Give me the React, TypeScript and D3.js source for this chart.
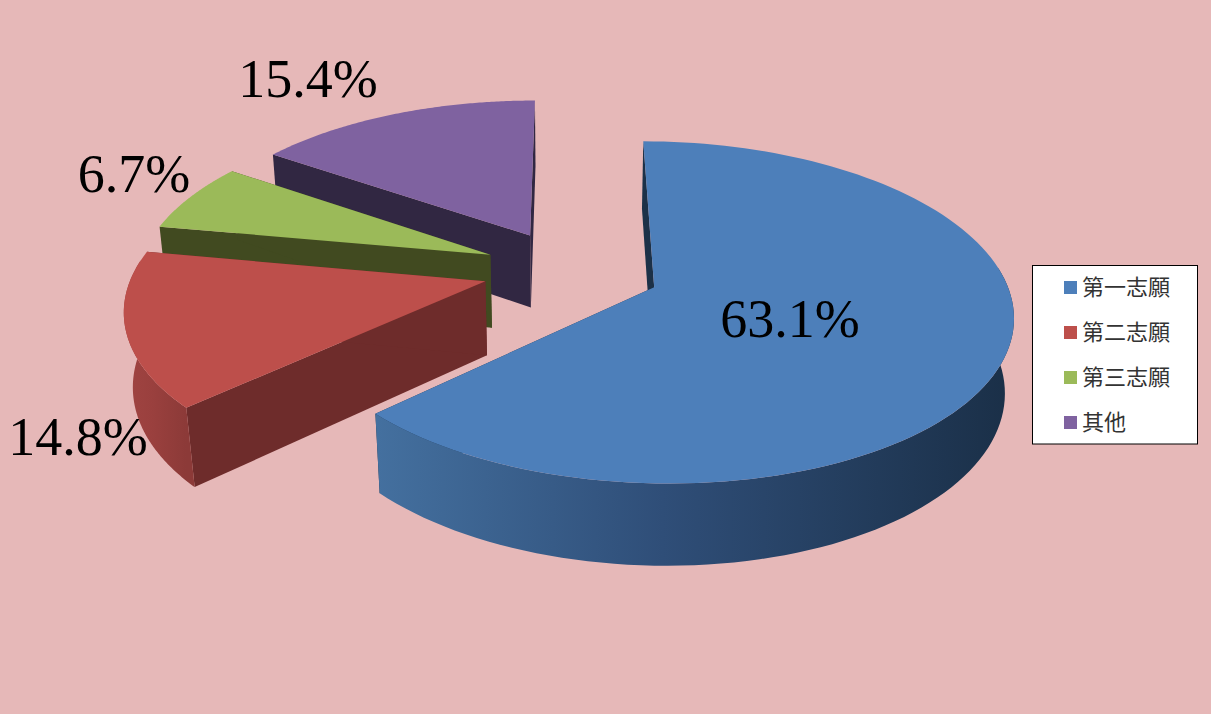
import React from "react";
import * as d3 from "d3";

const categories = ["第一志願", "第二志願", "第三志願", "其他"];
const values = [63.1, 14.8, 6.7, 15.4];
const valueLabels = ["63.1%", "14.8%", "6.7%", "15.4%"];
const topColors = ["#4d7fba", "#bd4f4b", "#9bba59", "#7f62a0"];
const wallColors = ["#1c3148", "#6e2c2b", "#414a20", "#312742"];
const sideStops = [
  ["#44709f", "#2f4e78", "#1a2f47"],
  ["#a04442", "#9a403e", "#8c3a38"],
  ["#5a6e33", "#5a6e33", "#5a6e33"],
  ["#4a3a60", "#4a3a60", "#4a3a60"],
];
const explode = [0.26, 0.245, 0.245, 0.245];
const radius = [0.99, 1, 1, 1];
const labelX = [790, 78, 134, 308];
const labelY = [337, 455, 192, 97];

const WIDTH = 1211;
const HEIGHT = 714;
const CX = 569;
const CY = 270;
const A = 352;
const B = 164;
const P = 0.146;
const Q = 0.02;
const H = 75;
const START = 0;

function project(u: number, v: number, h: number): [number, number] {
  const w = 1 - P * v + Q * h;
  return [CX + (A * u) / w, CY + (B * v + H * h) / w];
}

const pieGen = d3
  .pie<number>()
  .sort(null)
  .startAngle(START)
  .endAngle(START + 2 * Math.PI);
const arcs = pieGen(values);
const lineGen = d3.line();

function sliceGeometry(a: d3.PieArcDatum<number>, offset: number, r: number) {
  const mid = (a.startAngle + a.endAngle) / 2;
  const u0 = offset * Math.sin(mid);
  const v0 = -offset * Math.cos(mid);
  const steps = d3.range(0, 121).map((i) => a.startAngle + ((a.endAngle - a.startAngle) * i) / 120);
  const at = (t: number, h: number) => project(u0 + r * Math.sin(t), v0 - r * Math.cos(t), h);
  const apex = (h: number) => project(u0, v0, h);
  const topRim = steps.map((t) => at(t, 0));
  // Only the part of the rim that faces the viewer gets an outer side.
  const front = steps.filter((t) => Math.cos(t) <= 0.12);
  const sideTop = front.map((t) => at(t, 0));
  const sideBot = front.map((t) => at(t, 1));
  return {
    top: lineGen([apex(0), ...topRim])! + "Z",
    side: front.length ? lineGen([...sideTop, ...sideBot.slice().reverse()])! + "Z" : "",
    wallStart: lineGen([apex(0), at(a.startAngle, 0), at(a.startAngle, 1), apex(1)])! + "Z",
    wallEnd: lineGen([apex(0), at(a.endAngle, 0), at(a.endAngle, 1), apex(1)])! + "Z",
    x0: d3.min(topRim, (p) => p[0])!,
    x1: d3.max(topRim, (p) => p[0])!,
  };
}

const slices = arcs.map((a, i) => ({ i, ...sliceGeometry(a, explode[i], radius[i]) }));
const paintOrder = [3, 2, 1, 0];

const legendY = d3
  .scalePoint<string>()
  .domain(categories)
  .range([287, 422]);

export default function App() {
  return (
    <svg
      width={WIDTH}
      height={HEIGHT}
      viewBox={`0 0 ${WIDTH} ${HEIGHT}`}
      style={{ position: "absolute", left: 0, top: 0, display: "block" }}
    >
      <rect width={WIDTH} height={HEIGHT} fill="#e6b8b8" />
      <defs>
        {slices.map((s) => (
          <linearGradient
            key={s.i}
            id={`side${s.i}`}
            gradientUnits="userSpaceOnUse"
            x1={s.x0}
            x2={s.x1}
            y1={0}
            y2={0}
          >
            <stop offset="0" stopColor={sideStops[s.i][0]} />
            <stop offset="0.45" stopColor={sideStops[s.i][1]} />
            <stop offset="1" stopColor={sideStops[s.i][2]} />
          </linearGradient>
        ))}
      </defs>
      {paintOrder.map((k) => {
        const s = slices[k];
        return (
          <g key={k}>
            <path d={s.wallStart} fill={wallColors[k]} />
            <path d={s.wallEnd} fill={wallColors[k]} />
            {s.side && <path d={s.side} fill={`url(#side${k})`} />}
            <path d={s.top} fill={topColors[k]} />
          </g>
        );
      })}
      {valueLabels.map((t, i) => (
        <text
          key={t}
          x={labelX[i]}
          y={labelY[i]}
          textAnchor="middle"
          fontFamily="'Liberation Serif', serif"
          fontSize={54}
          fill="#000"
        >
          {t}
        </text>
      ))}
      <rect
        x={1032.5}
        y={265.5}
        width={165}
        height={178.5}
        fill="#fff"
        stroke="#000"
        strokeWidth={1}
      />
      {categories.map((c, i) => (
        <g key={c}>
          <rect x={1064} y={legendY(c)! - 6} width={13} height={13} fill={topColors[i]} />
          <text
            x={1082}
            y={legendY(c)! + 8}
            fontFamily="'Noto Sans CJK TC', sans-serif"
            fontSize={22}
            fill="#333"
          >
            {c}
          </text>
        </g>
      ))}
    </svg>
  );
}
